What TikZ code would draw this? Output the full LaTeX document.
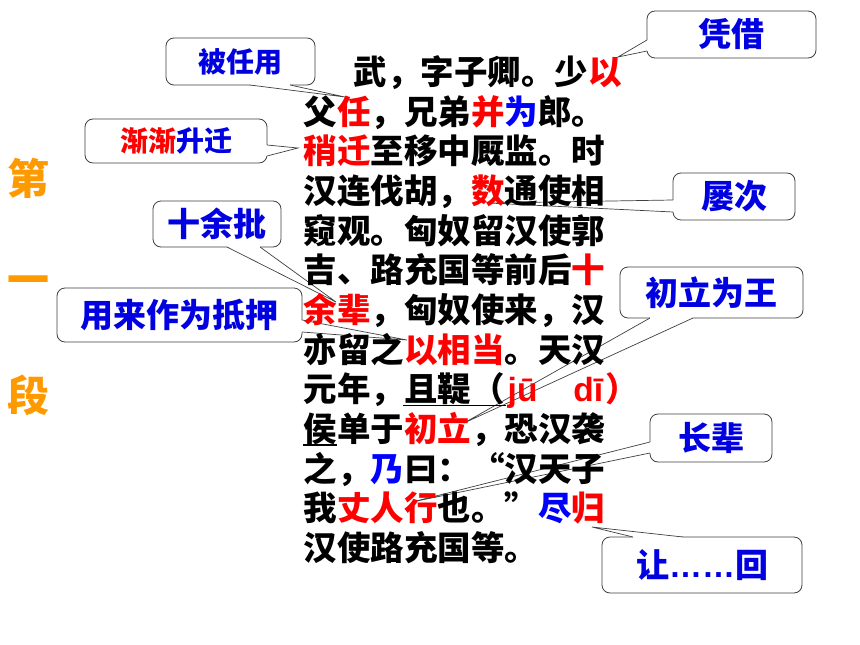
\documentclass[tikz,border=0pt]{standalone}
\usepackage{fontspec}
\setmainfont{Noto Sans CJK SC}
\newfontfamily\lat{Liberation Sans}
\usetikzlibrary{calc}
\definecolor{tred}{RGB}{255,0,0}
\definecolor{tblue}{RGB}{0,0,255}
\definecolor{lblue}{RGB}{0,0,225}
\definecolor{orng}{RGB}{255,153,0}
\definecolor{bord}{RGB}{64,64,64}
\tikzset{
 body/.style={anchor=base west, inner sep=0pt, font=\fontsize{33.5}{33.5}\selectfont\bfseries},
 callbox/.style={draw=bord, line width=0.8pt, fill=white, rounded corners=8pt, inner sep=0pt, text=lblue, font=\fontsize{33}{33}\selectfont\bfseries},
 smalltext/.style={font=\fontsize{28}{28}\selectfont\bfseries},
 callline/.style={draw=bord, line width=0.7pt},
 sidechar/.style={text=orng, inner sep=0pt, font=\fontsize{42}{42}\selectfont\bfseries},
 uline/.style={draw=black, line width=1.4pt}
}
\newcommand\R[1]{\textcolor{tred}{#1}}
\newcommand\B[1]{\textcolor{tblue}{#1}}
\newcommand\myoq{\makebox[1em][r]{“}}
\newcommand\mycq{\makebox[1em][l]{”}}
\newcommand\callwedge[4]{%
 \fill[white] ($(#1)+#4$) -- (#1) -- (#3) -- (#2) -- ($(#2)+#4$) -- cycle;
 \draw[callline] (#1) -- (#3) -- (#2);}
\begin{document}
\begin{tikzpicture}[x=1pt,y=-1pt]
\fill[white] (0,0) rectangle (860,645);
\useasboundingbox (0,0) rectangle (860,645);

% side title
\node[sidechar] (d1) at (28,178) {第};
\node[sidechar] (d2) at (28,286) {一};
\node[sidechar] (d3) at (28,395) {段};

% callout boxes
\node[callbox, smalltext, minimum width=149pt, minimum height=47pt] (b1) at (240.5,61.5) {被任用};
\node[callbox, smalltext, minimum width=182pt, minimum height=44pt] (b2) at (176,141) {\R{渐渐}升迁\hspace{22pt}};
\node[callbox, minimum width=128pt, minimum height=46pt] (b3) at (217,224) {十余批};
\node[callbox, minimum width=245pt, minimum height=54pt] (b4) at (179.5,315) {用来作为抵押};
\node[callbox, minimum width=169pt, minimum height=47pt] (b5) at (731.5,34.5) {凭借};
\node[callbox, minimum width=122pt, minimum height=47pt] (b6) at (734,196.5) {屡次};
\node[callbox, minimum width=183pt, minimum height=51pt] (b7) at (711.5,292.5) {初立为王};
\node[callbox, minimum width=122pt, minimum height=48pt] (b8) at (711,438) {长辈};
\node[callbox, minimum width=200pt, minimum height=56pt] (b9) at (702,565) {让{\lat ……}回};

% wedge points
\coordinate (w1a) at (250,85);  \coordinate (w1b) at (290,85);  \coordinate (t1) at (345,97);
\coordinate (w2a) at (267,145); \coordinate (w2b) at (267,156); \coordinate (t2) at (298,148);
\coordinate (w3a) at (227,247); \coordinate (w3b) at (260,247); \coordinate (t3) at (336,302);
\coordinate (w4a) at (302,320); \coordinate (w4b) at (302,332); \coordinate (t4) at (407,340);
\coordinate (w5a) at (647,40);  \coordinate (w5b) at (647,51);  \coordinate (t5) at (618,57);
\coordinate (w6a) at (673,200); \coordinate (w6b) at (673,212); \coordinate (t6) at (488,203);
\coordinate (w7a) at (650,318); \coordinate (w7b) at (693,318); \coordinate (t7) at (464,423);
\coordinate (w8a) at (650,442); \coordinate (w8b) at (650,453); \coordinate (t8) at (412,502);
\coordinate (w9a) at (633,537); \coordinate (w9b) at (683,537); \coordinate (t9) at (592,527);

\callwedge{w1a}{w1b}{t1}{(0,-3)}
\callwedge{w2a}{w2b}{t2}{(-3,0)}
\callwedge{w3a}{w3b}{t3}{(0,-3)}
\callwedge{w4a}{w4b}{t4}{(-3,0)}
\callwedge{w5a}{w5b}{t5}{(3,0)}
\callwedge{w6a}{w6b}{t6}{(3,0)}
\callwedge{w7a}{w7b}{t7}{(0,-3)}
\callwedge{w8a}{w8b}{t8}{(3,0)}
\callwedge{w9a}{w9b}{t9}{(0,3)}

% main text
\node[body] (l1) at (353.5,84.5) {武，字子卿。少\R{以}};
\node[body] (l2) at (303.5,124.2) {父\R{任}，兄弟\R{并}\B{为}郎。};
\node[body] (l3) at (303.5,163.8) {\R{稍迁}至移中厩监。时};
\node[body] (l4) at (303.5,203.5) {汉连伐胡，\R{数}通使相};
\node[body] (l5) at (303.5,243.2) {窥观。匈奴留汉使郭};
\node[body] (l6) at (303.5,282.8) {吉、路充国等前后\R{十}};
\node[body] (l7) at (303.5,322.5) {\R{余辈}，匈奴使来，汉};
\node[body] (l8) at (303.5,362.2) {亦留之\R{以相当}。天汉};
\node[body] (l9) at (303.5,401.8) {元年，且鞮（\R{\lat\hspace{3pt}jū\hspace{36pt}dī\hspace{2pt}}\R{）}};
\node[body] (l10) at (303.5,441.5) {侯单于\R{初立}，恐汉袭};
\node[body] (l11) at (303.5,481.2) {之，\B{乃}曰：\myoq 汉天子};
\node[body] (l12) at (303.5,520.8) {我\R{丈人行}也。\mycq\B{尽}\R{归}};
\node[body] (l13) at (303.5,560.5) {汉使路充国等。};

% underlines
\draw[uline] (403,405.5) -- (506,405.5);
\draw[uline] (303,445) -- (337,445);
\end{tikzpicture}
\end{document}
